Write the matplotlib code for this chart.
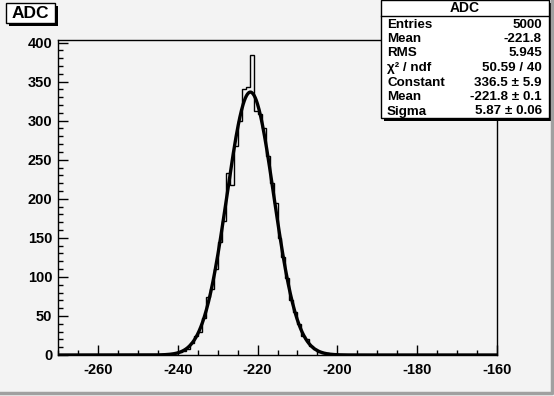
import numpy as np
import matplotlib
matplotlib.use("Agg")
import matplotlib.pyplot as plt
from matplotlib.patches import Rectangle
from matplotlib.ticker import MultipleLocator

######################## DATA
# histogram: 1 unit bins, lower edges from -246 .. -201 (everything else empty)
edge_start = -246
counts = [0, 0, 1, 0, 1, 2, 4, 5, 8, 16,
          24, 30, 48, 74, 84, 110, 145, 172, 233, 218,
          268, 300, 340, 343, 384, 312, 308, 290, 255, 220,
          195, 150, 126, 98, 70, 55, 40, 24, 21, 11,
          8, 4, 3, 2, 1, 0]

# fit result (gaus)
fit_const = 336.5
fit_mean = -221.8
fit_sigma = 5.87

stat_names = ["Entries", "Mean", "RMS", "\u03c7\u00b2 / ndf", "Constant", "Mean", "Sigma"]
stat_vals = ["5000", "-221.8", "5.945", "50.59 / 40",
             "336.5 \u00b1 5.9", "-221.8 \u00b1 0.1", "5.87 \u00b1 0.06"]

xmin, xmax = -270, -160

######################## FIGURE
W, H = 554, 396
bg = "#f3f3f3"
plt.rcParams['font.family'] = ['Liberation Sans', 'DejaVu Sans']
plt.rcParams['axes.unicode_minus'] = False

fig = plt.figure(figsize=(W/100, H/100), dpi=100)
fig.patch.set_facecolor(bg)

def fx(x):
    return x / W

def fy(y):
    return 1 - y / H

# frame in pixel coords: left 58, right 497, top 40, bottom 355
ax = fig.add_axes([fx(58), fy(355), fx(497) - fx(58), fy(40) - fy(355)])
ax.set_facecolor(bg)

edges = np.arange(edge_start, edge_start + len(counts) + 1)
all_edges = np.concatenate(([xmin], edges, [xmax]))
all_counts = np.concatenate(([0], counts, [0]))
ax.stairs(all_counts, all_edges, color="black", lw=1.0)

xf = np.linspace(xmin, xmax, 800)
yf = fit_const * np.exp(-0.5 * ((xf - fit_mean) / fit_sigma) ** 2)
ax.plot(xf, yf, color="black", lw=2.4, solid_capstyle="butt")

ax.set_xlim(xmin, xmax)
ax.set_ylim(0, 1.05 * max(counts))

ax.xaxis.set_major_locator(MultipleLocator(20))
ax.xaxis.set_minor_locator(MultipleLocator(5))
ax.yaxis.set_major_locator(MultipleLocator(50))
ax.yaxis.set_minor_locator(MultipleLocator(10))
ax.tick_params(which="major", direction="in", length=7.5, width=1, top=False, right=False,
               labelsize=10.5, pad=4)
ax.tick_params(which="minor", direction="in", length=3.8, width=1, top=False, right=False)
ax.tick_params(axis="x", pad=6)
for lab in ax.get_xticklabels() + ax.get_yticklabels():
    lab.set_fontweight("bold")
for s in ax.spines.values():
    s.set_linewidth(1)

# title box
fig.patches.append(Rectangle((fx(9), fy(26)), fx(58) - fx(9), fy(6) - fy(26),
                             transform=fig.transFigure, facecolor="black", edgecolor="black", lw=0))
fig.patches.append(Rectangle((fx(6), fy(23)), fx(55) - fx(6), fy(3) - fy(23),
                             transform=fig.transFigure, facecolor="white", edgecolor="black", lw=1))
fig.text(fx(30.5), fy(13), "ADC", ha="center", va="center", fontsize=12.5, fontweight="bold")

# stats box
bx0, bx1, by0, by1 = 381, 549, 0, 118
fig.patches.append(Rectangle((fx(bx0 + 3), fy(by1 + 3)), fx(bx1) - fx(bx0), fy(by0) - fy(by1),
                             transform=fig.transFigure, facecolor="black", edgecolor="black", lw=0))
fig.patches.append(Rectangle((fx(bx0), fy(by1)), fx(bx1) - fx(bx0), fy(by0) - fy(by1),
                             transform=fig.transFigure, facecolor="white", edgecolor="black", lw=1))
fig.add_artist(plt.Line2D([fx(bx0), fx(bx1)], [fy(16), fy(16)], transform=fig.transFigure,
                          color="black", lw=1))
fig.text(fx((bx0 + bx1) / 2), fy(8), "ADC", ha="center", va="center", fontsize=10, fontweight="bold")
for i, (n, v) in enumerate(zip(stat_names, stat_vals)):
    yy = fy(24.5 + i * 14.5)
    fig.text(fx(bx0 + 6), yy, n, ha="left", va="center", fontsize=9.6, fontweight="bold")
    fig.text(fx(bx1 - 7), yy, v, ha="right", va="center", fontsize=9.6, fontweight="bold")

# canvas bevel
fig.add_artist(plt.Line2D([fx(0), fx(552), fx(552)], [fy(393), fy(393), fy(0)],
                          transform=fig.transFigure, color="#a0a0a0", lw=2.5))

fig.savefig("out.png", dpi=100, facecolor=bg)
